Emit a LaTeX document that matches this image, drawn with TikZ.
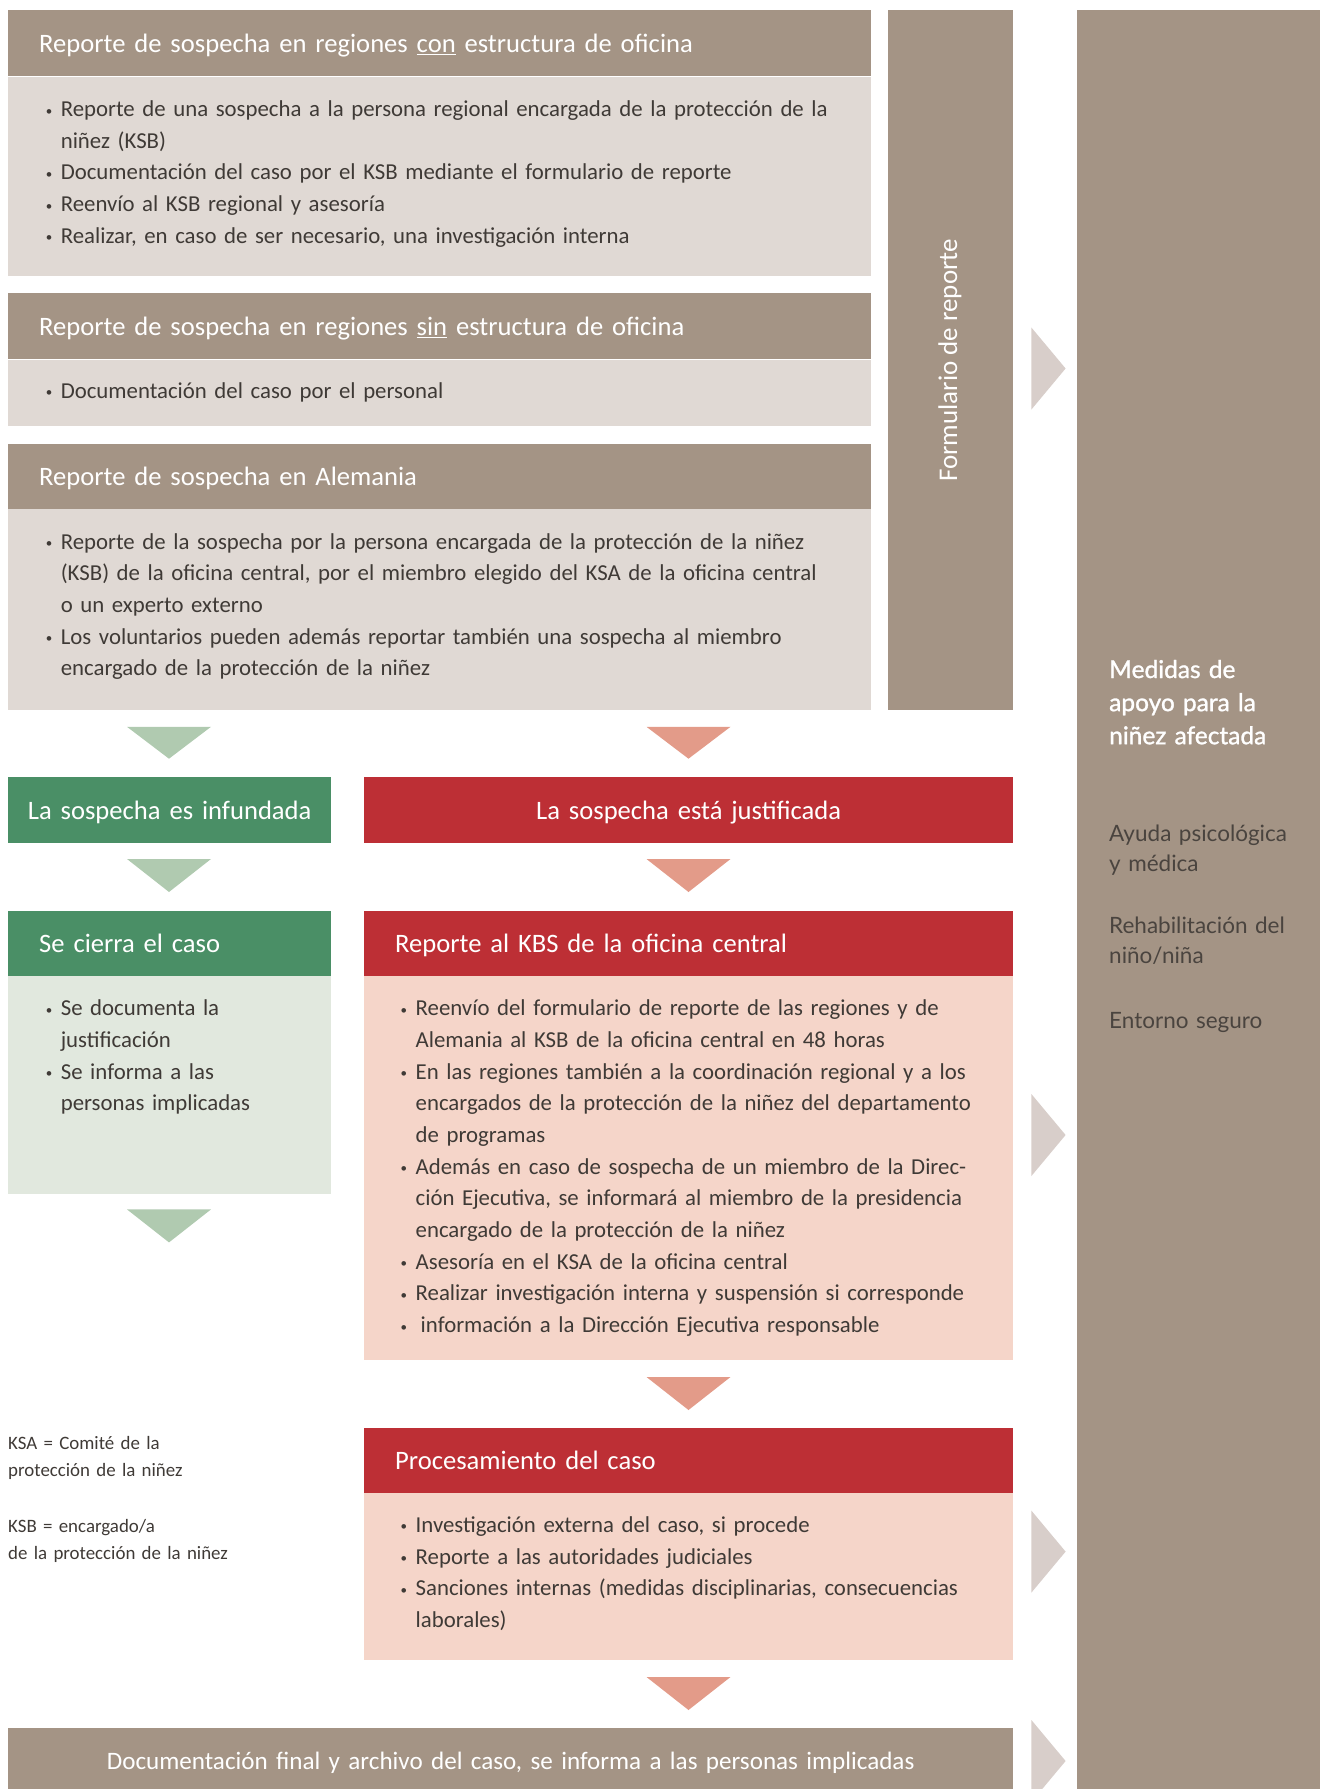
\documentclass[tikz,border=0pt]{standalone}
\usepackage{fontspec}
\setmainfont{Carlito}
\newfontfamily\sidefont{Lato}
\newfontfamily\sideboldfont{Lato}[FakeBold=1.2]
\usepackage{tikz}
\usetikzlibrary{positioning}

\definecolor{taupe}{HTML}{A49485}
\definecolor{taupelight}{HTML}{E0D9D4}
\definecolor{taupetri}{HTML}{D8CECA}
\definecolor{leaf}{HTML}{4A8F66}
\definecolor{leaflight}{HTML}{E1E8DE}
\definecolor{leaftri}{HTML}{B0CAB0}
\definecolor{brick}{HTML}{BD2F35}
\definecolor{bricklight}{HTML}{F5D5C9}
\definecolor{bricktri}{HTML}{E39B89}
\definecolor{inktext}{HTML}{3F3A36}
\definecolor{sidetext}{HTML}{4A443F}

\newcommand{\headsize}{\fontsize{26.6}{31}\selectfont}
\newcommand{\bodysize}{\fontsize{22.8}{31.7}\selectfont}
\newcommand{\bul}{\makebox[15pt][l]{\raisebox{1.5pt}{\fontsize{13}{13}\selectfont\textbullet}}}
\newcommand{\nobul}{\hspace*{15pt}}

\tikzstyle{head} = [rectangle, anchor=north west, minimum height=66, inner xsep=31, inner ysep=0, text height=20, text depth=2, text=white, align=left, font=\headsize]
\tikzstyle{panel} = [rectangle, anchor=north west, inner sep=0]
\tikzstyle{bullets} = [anchor=base west, inner sep=0, align=left, text=inktext, font=\bodysize]
\tikzstyle{sidenote} = [anchor=base west, inner sep=0, align=left, text width=215, text=sidetext, font=\sidefont\fontsize{22.5}{30.8}\selectfont]
\tikzstyle{abbrev} = [anchor=base west, inner sep=0, align=left, text width=300, text=inktext, font=\fontsize{18.9}{27.4}\selectfont]

\begin{document}
\begin{tikzpicture}[x=1pt, y=-1pt]
        \useasboundingbox (0, 0) rectangle (1320, 1789);

        % columns on the right
        \node[panel, fill=taupe, minimum width=125.4, minimum height=699.6] at (887.6, 10) (FORM_COL) {};
        \node[rotate=90, text=white, font=\fontsize{27}{31}\selectfont] at (950, 360.5) (FORM_LABEL) {Formulario de reporte};
        \node[panel, fill=taupe, minimum width=243, minimum height=1779] at (1077, 10) (SUPPORT_COL) {};
        \node[sidenote, text=white, font=\sideboldfont\fontsize{24.5}{33.1}\selectfont] at (1109, 678) (SUPPORT_TITLE) {Medidas de\\apoyo para la\\niñez afectada};
        \node[sidenote] at (1109, 841) (SUPPORT_HELP) {Ayuda psicológica\\y médica};
        \node[sidenote] at (1109, 933) (SUPPORT_REHAB) {Rehabilitación del\\niño/niña};
        \node[sidenote] at (1109, 1028) (SUPPORT_SAFE) {Entorno seguro};

        % reports
        \node[head, fill=taupe, text width=800.5] at (8, 10) (CON_HEAD) {Reporte de sospecha en regiones \underline{con} estructura de oficina};
        \node[panel, fill=taupelight, minimum width=862.5, minimum height=199.6] at (8, 76.4) (CON_BODY) {};
        \node[bullets, text width=820] at (45.6, 116.5) (CON_LIST) {\bul Reporte de una sospecha a la persona regional encargada de la protección de la\\
            \nobul niñez (KSB)\\
            \bul Documentación del caso por el KSB mediante el formulario de reporte\\
            \bul Reenvío al KSB regional y asesoría\\
            \bul Realizar, en caso de ser necesario, una investigación interna};

        \node[head, fill=taupe, text width=800.5] at (8, 293) (SIN_HEAD) {Reporte de sospecha en regiones \underline{sin} estructura de oficina};
        \node[panel, fill=taupelight, minimum width=862.5, minimum height=66.2] at (8, 359.4) (SIN_BODY) {};
        \node[bullets, text width=820] at (45.6, 398) (SIN_LIST) {\bul Documentación del caso por el personal};

        \node[head, fill=taupe, text width=800.5, minimum height=65] at (8, 443.8) (DE_HEAD) {Reporte de sospecha en Alemania};
        \node[panel, fill=taupelight, minimum width=862.5, minimum height=200.8] at (8, 508.8) (DE_BODY) {};
        \node[bullets, text width=820] at (45.6, 549) (DE_LIST) {\bul Reporte de la sospecha por la persona encargada de la protección de la niñez\\
            \nobul (KSB) de la oficina central, por el miembro elegido del KSA de la oficina central\\
            \nobul o un experto externo\\
            \bul Los voluntarios pueden además reportar también una sospecha al miembro\\
            \nobul encargado de la protección de la niñez};

        % decision
        \node[head, fill=leaf, text width=313, inner xsep=5, align=center] at (8, 777) (INFUNDADA) {La sospecha es infundada};
        \node[head, fill=brick, text width=587, align=center] at (364, 777) (JUSTIFICADA) {La sospecha está justificada};

        \node[head, fill=leaf, text width=261, minimum height=65] at (8, 910.4) (CIERRA_HEAD) {Se cierra el caso};
        \node[panel, fill=leaflight, minimum width=323, minimum height=218] at (8, 975.5) (CIERRA_BODY) {};
        \node[bullets, text width=280] at (45.6, 1015.6) (CIERRA_LIST) {\bul Se documenta la\\
            \nobul justificación\\
            \bul Se informa a las\\
            \nobul personas implicadas};

        \node[head, fill=brick, text width=587, minimum height=65] at (364, 910.4) (KBS_HEAD) {Reporte al KBS de la oficina central};
        \node[panel, fill=bricklight, minimum width=649, minimum height=384.5] at (364, 975.5) (KBS_BODY) {};
        \node[bullets, text width=620] at (400.5, 1015.6) (KBS_LIST) {\bul Reenvío del formulario de reporte de las regiones y de\\
            \nobul Alemania al KSB de la oficina central en 48 horas\\
            \bul En las regiones también a la coordinación regional y a los\\
            \nobul encargados de la protección de la niñez del departamento\\
            \nobul de programas\\
            \bul Además en caso de sospecha de un miembro de la Direc-\\
            \nobul ción Ejecutiva, se informará al miembro de la presidencia\\
            \nobul encargado de la protección de la niñez\\
            \bul Asesoría en el KSA de la oficina central\\
            \bul Realizar investigación interna y suspensión si corresponde\\
            \bul\hspace{5pt}información a la Dirección Ejecutiva responsable};

        \node[head, fill=brick, text width=587, minimum height=65] at (364, 1427.3) (PROC_HEAD) {Procesamiento del caso};
        \node[panel, fill=bricklight, minimum width=649, minimum height=167.7] at (364, 1492.3) (PROC_BODY) {};
        \node[bullets, text width=620] at (400.5, 1532.4) (PROC_LIST) {\bul Investigación externa del caso, si procede\\
            \bul Reporte a las autoridades judiciales\\
            \bul Sanciones internas (medidas disciplinarias, consecuencias\\
            \nobul laborales)};

        % abbreviations
        \node[abbrev] at (8, 1449) (KSA_NOTE) {KSA = Comité de la\\protección de la niñez};
        \node[abbrev] at (8, 1532.5) (KSB_NOTE) {KSB = encargado/a\\de la protección de la niñez};

        \node[head, fill=taupe, text width=943, align=center, minimum height=66, font=\fontsize{25.1}{30}\selectfont] at (8, 1727.3) (FINAL) {Documentación final y archivo del caso, se informa a las personas implicadas};

        % arrows down
        \fill[leaftri] (127, 726.8) -- (211, 726.8) -- (169, 758.7) -- cycle;
        \fill[leaftri] (127, 859) -- (211, 859) -- (169, 892) -- cycle;
        \fill[leaftri] (127, 1209.4) -- (211, 1209.4) -- (169, 1242.4) -- cycle;
        \fill[bricktri] (646.5, 726.8) -- (730.5, 726.8) -- (688.5, 758.7) -- cycle;
        \fill[bricktri] (646.5, 859) -- (730.5, 859) -- (688.5, 892) -- cycle;
        \fill[bricktri] (646.5, 1377) -- (730.5, 1377) -- (688.5, 1410) -- cycle;
        \fill[bricktri] (646.5, 1677) -- (730.5, 1677) -- (688.5, 1710) -- cycle;

        % arrows right
        \fill[taupetri] (1031.4, 327.5) -- (1065.6, 368.5) -- (1031.4, 409.5) -- cycle;
        \fill[taupetri] (1031.4, 1094) -- (1065.6, 1135) -- (1031.4, 1176) -- cycle;
        \fill[taupetri] (1031.4, 1510.6) -- (1065.6, 1551.6) -- (1031.4, 1592.6) -- cycle;
        \fill[taupetri] (1031.4, 1720) -- (1065.6, 1761) -- (1031.4, 1802) -- cycle;
    \end{tikzpicture}
\end{document}
